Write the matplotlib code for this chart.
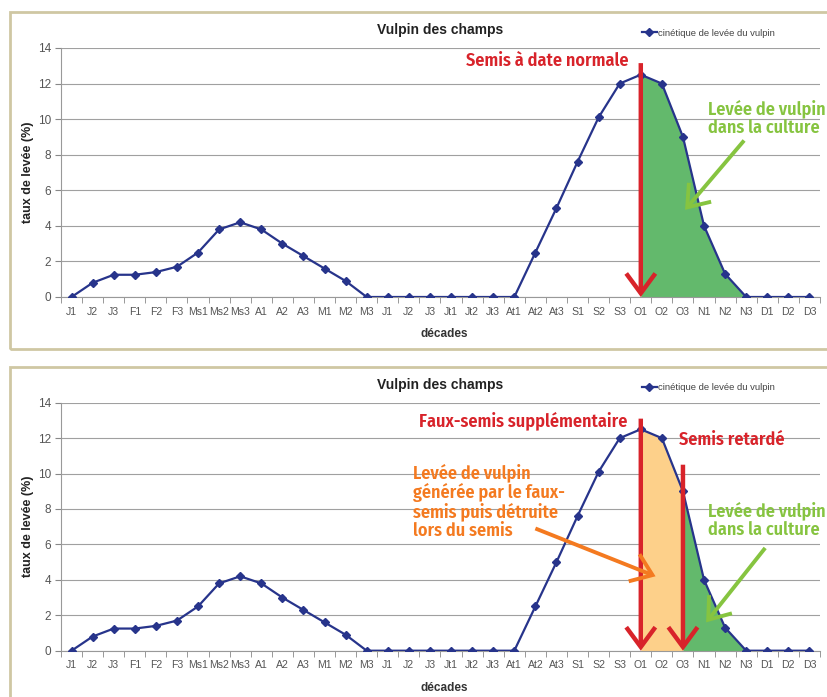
import matplotlib
matplotlib.use("Agg")
import matplotlib.pyplot as plt
import numpy as np
from matplotlib.patches import Rectangle

plt.rcParams['font.family'] = ['Liberation Sans', 'DejaVu Sans']

# décades (36 ten-day periods)
decades = ['J1', 'J2', 'J3', 'F1', 'F2', 'F3', 'Ms1', 'Ms2', 'Ms3', 'A1', 'A2', 'A3',
           'M1', 'M2', 'M3', 'J1', 'J2', 'J3', 'Jt1', 'Jt2', 'Jt3', 'At1', 'At2', 'At3',
           'S1', 'S2', 'S3', 'O1', 'O2', 'O3', 'N1', 'N2', 'N3', 'D1', 'D2', 'D3']
levee = [0, 0.8, 1.25, 1.25, 1.4, 1.7, 2.5, 3.8, 4.2, 3.8, 3.0, 2.3,
         1.6, 0.9, 0, 0, 0, 0, 0, 0, 0, 0, 2.5, 5.0,
         7.6, 10.1, 12.0, 12.5, 12.0, 9.0, 4.0, 1.3, 0, 0, 0, 0]

semis_normal = 'O1'
semis_retarde = 'O3'
fin_levee = 'N3'

RED = '#d8232a'
GREEN_TXT = '#86c440'
GREEN_FILL = '#63b96c'
ORANGE_TXT = '#f47a20'
ORANGE_FILL = '#fdd08a'
BLUE = '#27348b'
narrow = ['Fira Sans Condensed', 'Asap Condensed', 'DejaVu Sans']

x = np.arange(len(decades))
y = np.array(levee)
i_norm = decades.index(semis_normal, 20)
i_ret = decades.index(semis_retarde, 20)
i_fin = decades.index(fin_levee, 20)

fig = plt.figure(figsize=(8.28, 6.97), dpi=100)

# panel frames
fig.patches.append(Rectangle((10 / 828, 1 - 349 / 697), 0.99, 337 / 697, transform=fig.transFigure,
                             fill=False, edgecolor='#cfc7a3', lw=2))
fig.patches.append(Rectangle((10 / 828, -0.1), 0.99, 0.1 + 330 / 697, transform=fig.transFigure,
                             fill=False, edgecolor='#cfc7a3', lw=2))

ax1 = fig.add_axes([61 / 828, 1 - 297 / 697, 759 / 828, 249 / 697])
ax2 = fig.add_axes([61 / 828, 1 - 650.7 / 697, 759 / 828, 248 / 697])


def base(ax):
    ax.plot(x, y, color=BLUE, lw=1.6, marker='D', ms=3.8, zorder=4,
            label='cinétique de levée du vulpin')
    ax.set_xlim(-0.5, len(decades) - 0.5)
    ax.set_ylim(0, 14)
    ax.set_yticks(range(0, 15, 2))
    ax.set_xticks(x)
    ax.set_xticklabels(decades)
    ax.set_xticks(np.arange(-0.5, len(decades), 1), minor=True)
    ax.tick_params(axis='x', which='major', length=0, pad=7, labelsize=7.6, labelcolor='#555555')
    ax.tick_params(axis='x', which='minor', length=4, color='#888888', direction='out')
    ax.tick_params(axis='y', length=4, color='#888888', labelsize=8.5, labelcolor='#555555', pad=3)
    ax.grid(axis='y', color='#a0a0a0', lw=0.8)
    ax.set_axisbelow(True)
    for s in ['top', 'right']:
        ax.spines[s].set_visible(False)
    for s in ['left', 'bottom']:
        ax.spines[s].set_color('#999999')
    ax.text(0.5, 1.072, 'Vulpin des champs', transform=ax.transAxes, ha='center', va='center',
            fontsize=10, fontweight='bold', color='#222222')
    ax.set_ylabel('taux de levée (%)', fontsize=9, fontweight='bold', color='#222222')
    ax.yaxis.set_label_coords(-0.036, 0.5)
    ax.set_xlabel('décades', fontsize=8.5, fontweight='bold', color='#333333')
    ax.xaxis.set_label_coords(0.505, -0.125)
    ax.legend(loc='center', bbox_to_anchor=(0.853, 1.06), frameon=False, fontsize=6.8,
              handlelength=1.6, handletextpad=0.15, labelcolor='#444444')
    ax.patch.set_alpha(0)


def arrow(ax, start, end, color, lw, ms=15):
    ax.annotate('', xy=end, xytext=start,
                arrowprops=dict(arrowstyle='->,head_length=0.95,head_width=0.7', color=color,
                                lw=lw, mutation_scale=ms, shrinkA=0, shrinkB=0,
                                joinstyle='miter', capstyle='butt'), zorder=6)


def txt(ax, xx, yy, s, color, ha='left'):
    ax.text(xx, yy, s, color=color, ha=ha, va='center', fontsize=13, fontweight='semibold',
            family=narrow, linespacing=1.05, zorder=7)


# panel 1: normal sowing date
base(ax1)
ax1.fill_between(x[i_norm:i_fin + 1], y[i_norm:i_fin + 1], color=GREEN_FILL, lw=0, zorder=2)
arrow(ax1, (i_norm, 13.15), (i_norm, 0), RED, 3.2)
txt(ax1, 26.4, 13.3, 'Semis à date normale', RED, ha='right')
txt(ax1, 30.2, 10.05, 'Levée de vulpin\ndans la culture', GREEN_TXT)
arrow(ax1, (31.9, 8.8), (29.1, 4.9), GREEN_TXT, 2.8)

# panel 2: false seedbed + delayed sowing
base(ax2)
ax2.fill_between(x[i_norm:i_ret + 1], y[i_norm:i_ret + 1], color=ORANGE_FILL, lw=0, zorder=2)
ax2.fill_between(x[i_ret:i_fin + 1], y[i_ret:i_fin + 1], color=GREEN_FILL, lw=0, zorder=2)
arrow(ax2, (i_norm, 13.1), (i_norm, 0), RED, 3.2)
arrow(ax2, (i_ret, 10.5), (i_ret, 0), RED, 3.2)
txt(ax2, 26.35, 13.0, 'Faux-semis supplémentaire', RED, ha='right')
txt(ax2, 28.8, 11.9, 'Semis retardé', RED)
txt(ax2, 16.2, 8.43, 'Levée de vulpin\ngénérée par le faux-\nsemis puis détruite\nlors du semis', ORANGE_TXT)
arrow(ax2, (22.0, 6.9), (27.7, 4.2), ORANGE_TXT, 2.8)
txt(ax2, 30.2, 7.4, 'Levée de vulpin\ndans la culture', GREEN_TXT)
arrow(ax2, (32.9, 5.8), (30.1, 1.6), GREEN_TXT, 2.8)

fig.savefig('out.png', dpi=100)
